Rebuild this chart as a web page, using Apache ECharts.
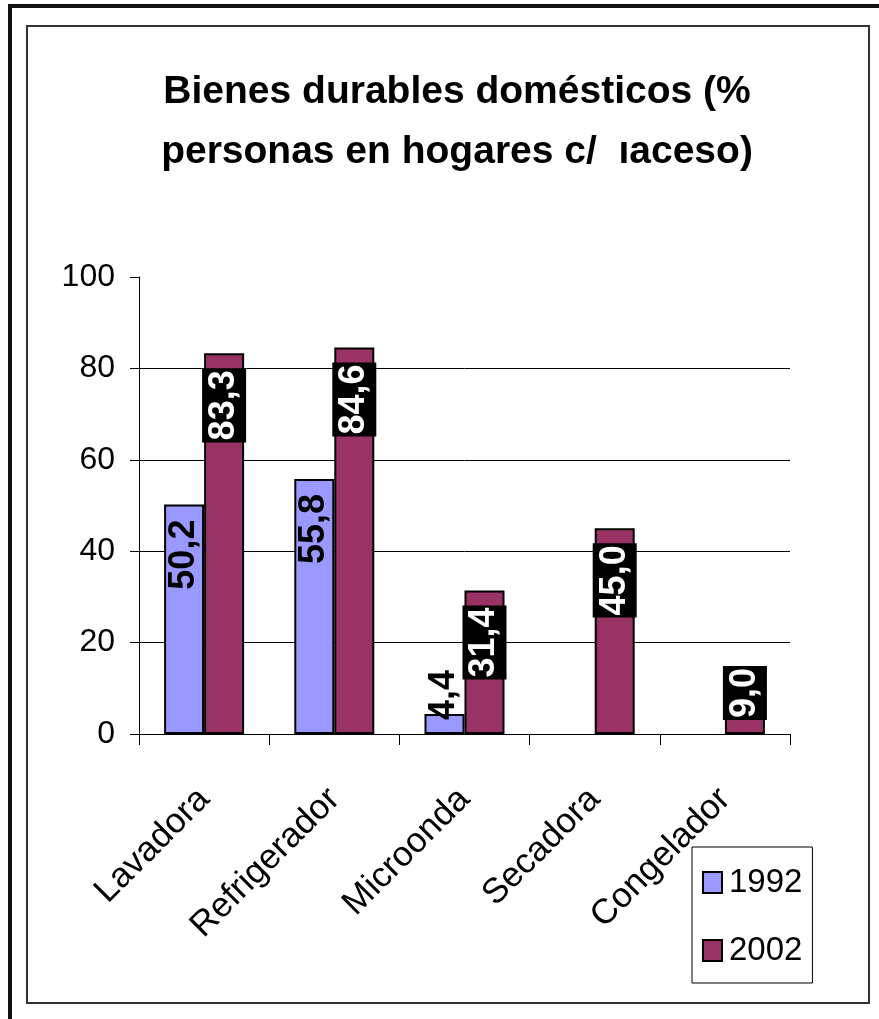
<!DOCTYPE html>
<html>
<head>
<meta charset="utf-8">
<script src="https://cdn.jsdelivr.net/npm/echarts@6/dist/echarts.min.js"></script>
<style>
html,body{margin:0;padding:0;background:#fff;}
#chart{width:879px;height:1019px;}
</style>
</head>
<body>
<div id="chart"></div>
<script>
const titleLines = ['Bienes durables domésticos (%', 'personas en hogares c/  \u0131aceso)'];
const categories = ['Lavadora', 'Refrigerador', 'Microonda', 'Secadora', 'Congelador'];
const seriesNames = ['1992', '2002'];
const values1992 = [50.2, 55.8, 4.4, null, null];
const values2002 = [83.3, 84.6, 31.4, 45.0, 9.0];
const yTicks = [0, 20, 40, 60, 80, 100];

const FONT = '"Liberation Sans", Arial, sans-serif';
const fmt = v => (v == null ? '' : v.toFixed(1).replace('.', ','));

function labelFor(v, boxed) {
  const base = {
    show: true,
    rotate: 90,
    fontFamily: FONT,
    fontWeight: 'bold',
    fontSize: 36,
    lineHeight: 40,
    verticalAlign: 'middle',
    color: boxed ? '#fff' : '#000',
    formatter: p => fmt(p.value)
  };
  if (boxed) { base.backgroundColor = '#000'; base.padding = [2, 2]; }
  if (v != null && v < 20) {
    base.position = 'insideBottom'; base.align = 'left'; base.distance = 14;
  } else {
    base.position = 'insideTop'; base.align = 'right'; base.distance = 15;
  }
  return base;
}
function buildData(arr, boxed) {
  return arr.map(v => ({ value: v, label: labelFor(v, boxed) }));
}

const chart = echarts.init(document.getElementById('chart'), null, { renderer: 'canvas' });
chart.setOption({
  animation: false,
  backgroundColor: '#fff',
  title: {
    text: titleLines.join('\n'),
    left: 452,
    textAlign: 'center',
    top: 57,
    textStyle: { fontFamily: FONT, fontWeight: 'bold', fontSize: 39, lineHeight: 60, color: '#000' }
  },
  graphic: [
    { type: 'rect', shape: { x: 10, y: 6, width: 960, height: 1100 }, style: { fill: 'none', stroke: '#111', lineWidth: 4 }, silent: true },
    { type: 'rect', shape: { x: 27, y: 26, width: 842, height: 977 }, style: { fill: 'none', stroke: '#333', lineWidth: 2 }, silent: true }
  ],
  legend: {
    orient: 'vertical',
    left: 692,
    top: 847,
    padding: [19, 10, 16, 10],
    itemGap: 35,
    itemWidth: 19,
    itemHeight: 21,
    icon: 'rect',
    borderColor: '#000',
    borderWidth: 1,
    textStyle: { fontFamily: FONT, fontSize: 33, lineHeight: 32, color: '#000', padding: [0, 0, 0, 2] },
    data: seriesNames
  },
  grid: { left: 139, right: 89, top: 277, bottom: 285, containLabel: false },
  xAxis: {
    type: 'category',
    data: categories,
    axisLine: { lineStyle: { color: '#000', width: 1 } },
    axisTick: { show: true, length: 11, lineStyle: { color: '#000' } },
    axisLabel: { interval: 0, rotate: 45, margin: 60, fontFamily: FONT, fontSize: 35, color: '#000' }
  },
  yAxis: {
    type: 'value',
    min: yTicks[0],
    max: yTicks[yTicks.length - 1],
    interval: 20,
    axisLine: { show: true, lineStyle: { color: '#000', width: 1 } },
    axisTick: { show: true, length: 9, lineStyle: { color: '#000' } },
    axisLabel: { margin: 24, fontFamily: FONT, fontSize: 32, color: '#000' },
    splitLine: { show: true, lineStyle: { color: ['#000', '#000', '#000', '#000', '#000', 'rgba(0,0,0,0)'], width: 1 } }
  },
  series: [
    {
      name: seriesNames[0], type: 'bar', barWidth: 40, barGap: '0%',
      itemStyle: { color: '#9999FF', borderColor: '#000', borderWidth: 2 },
      data: buildData(values1992, false)
    },
    {
      name: seriesNames[1], type: 'bar', barWidth: 40, barGap: '0%',
      itemStyle: { color: '#993366', borderColor: '#000', borderWidth: 2 },
      data: buildData(values2002, true)
    }
  ]
});
</script>
</body>
</html>
